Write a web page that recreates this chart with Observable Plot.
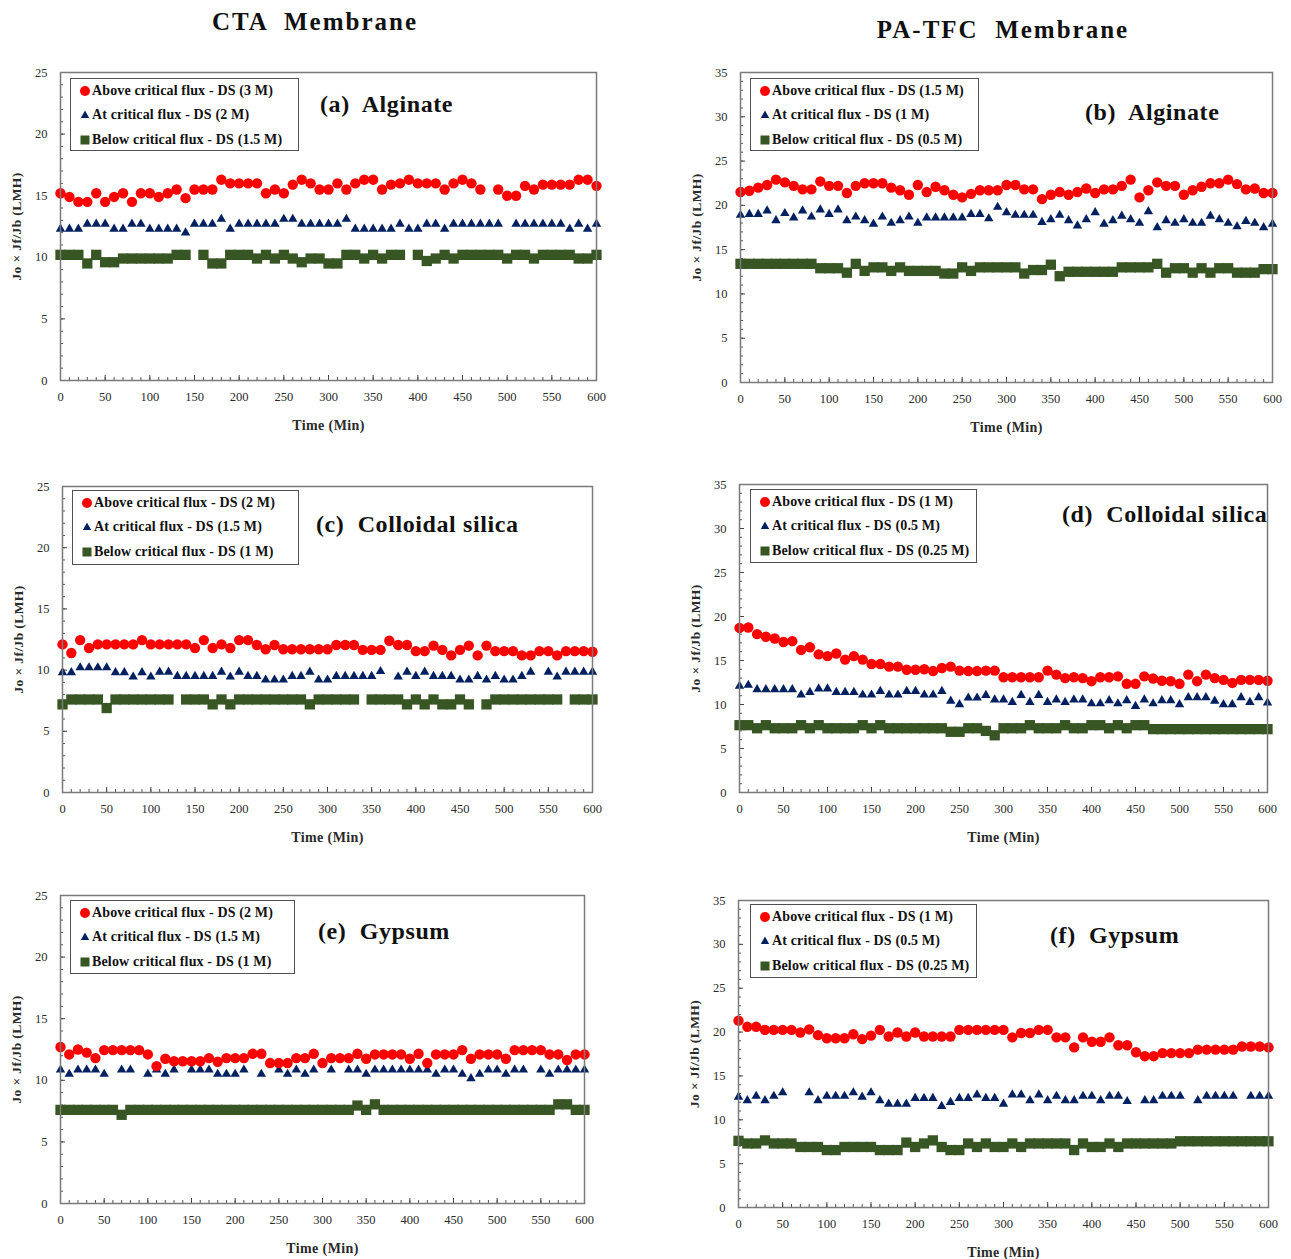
<!DOCTYPE html>
<html><head><meta charset="utf-8">
<script src="https://cdn.jsdelivr.net/npm/d3@7"></script>
<script src="https://cdn.jsdelivr.net/npm/@observablehq/plot@0.6"></script>
<style>
body{margin:0;background:#fff;}
#root{position:relative;width:1291px;height:1259px;font-family:"Liberation Serif","Times New Roman",serif;color:#111;overflow:hidden;}
.ctitle{position:absolute;font-weight:bold;font-size:25px;letter-spacing:2px;white-space:pre;transform:translate(-50%,-50%);line-height:28px;}
.panel{position:absolute;}
.panel svg{overflow:visible;}
.legend{position:absolute;border:1.6px solid #505050;background:#fff;box-sizing:border-box;font-weight:bold;font-size:14px;letter-spacing:0.15px;}
.legend .row{position:absolute;left:0;height:18px;line-height:18px;white-space:nowrap;}
.legend .row svg{position:absolute;top:0;}
.legend .row span{position:absolute;top:0;}
.plabel{position:absolute;font-weight:bold;font-size:24px;letter-spacing:0.6px;white-space:pre;line-height:26px;}
g[aria-label="y-axis label"] text{font-weight:bold;font-size:13.5px;letter-spacing:0.4px;}
g[aria-label="x-axis label"] text{font-weight:bold;font-size:14px;letter-spacing:0.4px;}
</style></head><body><div id="root"></div>
<script>
// ---- data ----
const times = [0,10,20,30,40,50,60,70,80,90,100,110,120,130,140,150,160,170,180,190,200,210,220,230,240,250,260,270,280,290,300,310,320,330,340,350,360,370,380,390,400,410,420,430,440,450,460,470,480,490,500,510,520,530,540,550,560,570,580,590,600];
const xTicks = [0,50,100,150,200,250,300,350,400,450,500,550,600];
const yTicks25 = [0,5,10,15,20,25];
const yTicks35 = [0,5,10,15,20,25,30,35];

const seriesNames = ["Above critical flux", "At critical flux", "Below critical flux"];

// (a) CTA – Alginate
const aRed = [15.2,14.9,14.5,14.5,15.2,14.5,14.9,15.2,14.5,15.2,
  15.2,14.9,15.2,15.5,14.8,15.5,15.5,15.5,16.3,16.0,
  16.0,16.0,16.0,15.2,15.5,15.2,15.9,16.3,16.0,15.5,
  15.5,16.0,15.5,16.0,16.3,16.3,15.5,15.9,16.0,16.3,
  16.0,16.0,16.0,15.5,16.0,16.3,16.0,15.5,null,15.5,
  15.0,15.0,15.8,15.5,15.9,15.9,15.9,15.9,16.3,16.3,
  15.8];
const aBlue = [12.3,12.3,12.3,12.7,12.7,12.7,12.3,12.3,12.7,12.7,
  12.3,12.3,12.3,12.3,12.0,12.7,12.7,12.7,13.1,12.3,
  12.7,12.7,12.7,12.7,12.7,13.1,13.1,12.7,12.7,12.7,
  12.7,12.7,13.1,12.3,12.3,12.3,12.3,12.3,12.7,12.3,
  12.3,12.7,12.7,12.3,12.7,12.7,12.7,12.7,12.7,12.7,
  null,12.7,12.7,12.7,12.7,12.7,12.7,12.3,12.7,12.3,
  12.7];
const aGreen = [10.2,10.2,10.2,9.5,10.2,9.6,9.6,9.9,9.9,9.9,
  9.9,9.9,9.9,10.2,10.2,null,10.2,9.5,9.5,10.2,
  10.2,10.2,9.9,10.2,9.9,10.2,9.9,9.6,9.9,9.9,
  9.5,9.5,10.2,10.2,9.9,10.2,9.9,10.2,10.2,null,
  10.2,9.7,9.9,10.2,9.9,10.2,10.2,10.2,10.2,10.2,
  9.9,10.2,10.2,9.9,10.2,10.2,10.2,10.2,9.9,9.9,
  10.2];

// (b) PA-TFC – Alginate
const bRed = [21.5,21.65,22.0,22.3,22.9,22.6,22.2,21.8,21.8,22.7,
  22.2,22.2,21.4,22.2,22.5,22.5,22.5,22.0,21.7,21.2,
  22.3,21.5,22.1,21.7,21.2,20.9,21.3,21.7,21.7,21.7,
  22.3,22.3,21.8,21.8,20.7,21.2,21.5,21.2,21.5,21.9,
  21.4,21.8,21.8,22.2,22.9,20.9,21.7,22.6,22.2,22.2,
  21.2,21.7,22.1,22.5,22.5,22.9,22.4,21.8,21.9,21.4,
  21.4];
const bBlue = [18.9,19.0,19.0,19.4,18.3,19.1,18.6,19.4,18.7,19.5,
  19.0,19.5,18.3,18.7,18.3,17.9,18.7,18.0,18.3,18.7,
  18.0,18.6,18.6,18.6,18.6,18.6,19.0,19.0,18.5,19.8,
  19.2,18.9,18.9,18.9,18.1,18.4,18.9,18.3,17.7,18.4,
  19.2,17.9,18.3,18.8,18.4,18.0,19.3,17.5,18.3,18.0,
  18.4,18.0,18.0,18.8,18.4,18.0,17.6,18.2,18.0,17.5,
  17.9];
const bGreen = [13.4,13.4,13.4,13.4,13.4,13.4,13.4,13.4,13.4,12.9,
  12.9,12.9,12.4,13.4,12.6,13.0,13.0,12.6,13.0,12.6,
  12.6,12.6,12.6,12.3,12.3,13.0,12.6,13.0,13.0,13.0,
  13.0,13.0,12.3,12.7,12.7,13.3,12.0,12.5,12.5,12.5,
  12.5,12.5,12.5,13.0,13.0,13.0,13.0,13.4,12.4,12.9,
  12.9,12.4,12.9,12.4,12.9,12.9,12.4,12.4,12.4,12.8,
  12.8];

// (c) CTA – Colloidal silica
const cRed = [12.1,11.4,12.45,11.8,12.1,12.1,12.1,12.1,12.1,12.45,
  12.1,12.1,12.1,12.1,12.1,11.8,12.45,11.8,12.1,11.8,
  12.45,12.45,12.05,11.7,12.05,11.7,11.7,11.7,11.7,11.7,
  11.7,12.05,12.05,12.05,11.65,11.65,11.65,12.4,12.05,12.05,
  11.55,11.55,12.0,11.65,11.2,11.65,12.0,11.2,12.0,11.55,
  11.55,11.55,11.2,11.2,11.55,11.55,11.2,11.55,11.55,11.55,
  11.5];
const cBlue = [9.8,9.8,10.2,10.2,10.2,10.2,9.8,9.8,9.45,9.8,
  9.45,9.85,9.85,9.5,9.5,9.5,9.5,9.5,9.85,9.45,
  9.85,9.5,9.5,9.2,9.2,9.2,9.5,9.5,9.85,9.2,
  9.2,9.5,9.5,9.5,9.5,9.5,9.9,null,9.45,9.85,
  9.5,9.85,9.5,9.5,9.5,9.2,9.2,9.5,9.2,9.5,
  9.2,9.2,9.5,9.85,null,9.85,9.45,9.85,9.85,9.85,
  9.85];
const cGreen = [7.2,7.6,7.6,7.6,7.6,6.9,7.6,7.6,7.6,7.6,
  7.6,7.6,7.6,null,7.6,7.6,7.6,7.2,7.6,7.2,
  7.6,7.6,7.6,7.6,7.6,7.6,7.6,7.6,7.2,7.6,
  7.6,7.6,7.6,7.6,null,7.6,7.6,7.6,7.6,7.2,
  7.6,7.2,7.6,7.2,7.2,7.6,7.2,null,7.2,7.6,
  7.6,7.6,7.6,7.6,7.6,7.6,7.6,null,7.6,7.6,
  7.6];

// (d) PA-TFC – Colloidal silica
const dRed = [18.7,18.75,18.0,17.7,17.5,17.1,17.2,16.2,16.5,15.7,
  15.5,15.8,15.1,15.5,15.1,14.6,14.6,14.3,14.3,13.95,
  13.95,14.0,13.8,14.15,14.3,13.85,13.8,13.8,13.85,13.85,
  13.1,13.1,13.1,13.1,13.1,13.85,13.4,13.0,13.1,13.0,
  12.65,13.1,13.1,13.2,12.35,12.35,13.2,12.95,12.7,12.65,
  12.35,13.4,12.65,13.4,13.0,12.8,12.45,12.8,12.8,12.8,
  12.7];
const dBlue = [12.1,12.2,11.7,11.7,11.7,11.7,11.7,11.1,11.4,11.8,
  11.8,11.4,11.4,11.4,11.1,11.1,11.5,11.1,11.1,11.5,
  11.5,11.1,11.1,11.5,10.4,10.0,10.75,10.75,11.05,10.55,
  10.55,10.25,11.05,10.25,11.05,10.25,10.55,10.25,10.55,10.55,
  10.1,10.1,10.45,10.1,10.45,9.8,10.55,10.1,10.45,10.45,
  10.0,10.8,10.8,10.8,10.4,10.0,10.0,10.8,10.25,10.8,
  10.2];
const dGreen = [7.65,7.65,7.3,7.65,7.3,7.3,7.3,7.65,7.3,7.65,
  7.3,7.3,7.3,7.3,7.65,7.3,7.65,7.3,7.3,7.3,
  7.3,7.3,7.3,7.3,6.9,6.9,7.3,7.3,7.0,6.5,
  7.3,7.3,7.3,7.65,7.3,7.3,7.3,7.65,7.3,7.3,
  7.65,7.65,7.3,7.65,7.3,7.65,7.65,7.2,7.2,7.2,
  7.2,7.2,7.2,7.2,7.2,7.2,7.2,7.2,7.2,7.2,
  7.2];

// (e) CTA – Gypsum
const eRed = [12.7,12.1,12.5,12.25,11.8,12.45,12.45,12.45,12.45,12.45,
  12.1,11.15,11.75,11.55,11.55,11.55,11.55,11.8,11.5,11.8,
  11.8,11.8,12.15,12.15,11.4,11.4,11.4,11.8,11.8,12.15,
  11.4,11.8,11.8,11.8,12.15,11.75,12.1,12.1,12.1,12.1,
  11.75,12.15,11.4,12.1,12.1,12.1,12.45,11.75,12.1,12.1,
  12.1,11.75,12.45,12.45,12.45,12.45,12.1,12.1,11.65,12.1,
  12.1];
const eBlue = [10.85,10.5,10.85,10.85,10.85,10.5,null,10.85,10.85,null,
  10.5,10.85,10.5,10.85,null,10.85,10.85,10.85,10.5,10.5,
  10.5,10.85,null,10.5,null,10.85,10.5,10.85,10.5,10.85,
  null,10.85,null,10.85,10.85,10.5,10.85,10.85,10.85,10.85,
  10.85,10.85,10.85,10.5,10.85,10.85,10.5,10.15,10.5,10.85,
  10.85,10.5,10.85,10.85,null,10.85,10.5,10.85,10.85,10.85,
  10.85];
const eGreen = [7.6,7.6,7.6,7.6,7.6,7.6,7.6,7.2,7.6,7.6,
  7.6,7.6,7.6,7.6,7.6,7.6,7.6,7.6,7.6,7.6,
  7.6,7.6,7.6,7.6,7.6,7.6,7.6,7.6,7.6,7.6,
  7.6,7.6,7.6,7.6,7.95,7.6,8.05,7.6,7.6,7.6,
  7.6,7.6,7.6,7.6,7.6,7.6,7.6,7.6,7.6,7.6,
  7.6,7.6,7.6,7.6,7.6,7.6,7.6,8.05,8.05,7.6,
  7.6];

// (f) PA-TFC – Gypsum
const fRed = [21.3,20.6,20.6,20.25,20.25,20.25,20.25,19.95,20.3,19.65,
  19.3,19.3,19.3,19.75,19.2,19.6,20.25,19.5,19.95,19.5,
  19.95,19.5,19.5,19.5,19.5,20.25,20.25,20.25,20.25,20.25,
  20.25,19.4,19.9,19.9,20.25,20.25,19.4,19.4,18.25,19.4,
  18.9,18.9,19.4,18.5,18.5,17.7,17.25,17.25,17.6,17.6,
  17.6,17.6,18.0,18.0,18.0,18.0,18.0,18.35,18.35,18.35,
  18.25];
const fBlue = [12.6,12.2,12.7,12.2,12.7,13.1,null,null,13.1,12.2,
  12.7,12.7,12.7,13.1,12.6,13.1,12.2,11.8,11.8,11.8,
  12.45,12.45,12.45,11.55,12.0,12.45,12.45,12.85,12.45,12.45,
  11.8,12.85,12.85,12.2,12.85,12.2,12.7,12.2,12.2,12.7,
  12.7,12.2,12.7,12.7,12.1,null,12.2,12.2,12.7,12.7,
  12.7,null,12.2,12.7,12.7,12.7,12.7,null,12.7,12.7,
  12.7];
const fGreen = [7.6,7.3,7.3,7.65,7.3,7.3,7.3,6.9,6.9,6.9,
  6.55,6.55,6.9,6.9,6.9,6.9,6.55,6.55,6.55,7.4,
  6.9,7.3,7.65,6.9,6.55,6.55,7.3,6.9,7.3,6.9,
  6.9,7.3,6.9,7.3,7.3,7.3,7.3,7.3,6.55,7.3,
  6.9,6.9,7.3,6.9,7.3,7.3,7.3,7.3,7.3,7.3,
  7.55,7.55,7.55,7.55,7.55,7.55,7.55,7.55,7.55,7.55,
  7.55];

// ---- layout (positions & styles) ----
const COLORS = {red:"#ff0000", blue:"#002060", green:"#375623"};
const panels = [
  {id:"a", L:60, R:596, T:72, B:380, yMax:25, yTicks:yTicks25, series:[aRed,aBlue,aGreen], ds:["3 M","2 M","1.5 M"],
   legend:{x:70,y:78,w:229,h:73}, label:{text:"(a)  Alginate", x:320, y:104}},
  {id:"b", L:740, R:1272, T:72, B:382, yMax:35, yTicks:yTicks35, series:[bRed,bBlue,bGreen], ds:["1.5 M","1 M","0.5 M"],
   legend:{x:750,y:78,w:229,h:73}, label:{text:"(b)  Alginate", x:1085, y:112}},
  {id:"c", L:62, R:592, T:486, B:792, yMax:25, yTicks:yTicks25, series:[cRed,cBlue,cGreen], ds:["2 M","1.5 M","1 M"],
   legend:{x:72,y:490,w:227,h:75}, label:{text:"(c)  Colloidal silica", x:316, y:524}},
  {id:"d", L:739, R:1267, T:484, B:792, yMax:35, yTicks:yTicks35, series:[dRed,dBlue,dGreen], ds:["1 M","0.5 M","0.25 M"],
   legend:{x:750,y:489,w:227,h:74}, label:{text:"(d)  Colloidal silica", x:1062, y:514}},
  {id:"e", L:60, R:584, T:895, B:1203, yMax:25, yTicks:yTicks25, series:[eRed,eBlue,eGreen], ds:["2 M","1.5 M","1 M"],
   legend:{x:70,y:900,w:225,h:74}, label:{text:"(e)  Gypsum", x:318, y:931}},
  {id:"f", L:738, R:1268, T:900, B:1207, yMax:35, yTicks:yTicks35, series:[fRed,fBlue,fGreen], ds:["1 M","0.5 M","0.25 M"],
   legend:{x:750,y:904,w:227,h:74}, label:{text:"(f)  Gypsum", x:1050, y:935}}
];

const root = document.getElementById("root");
function addTitle(text, cx, cy){
  const d = document.createElement("div");
  d.className = "ctitle"; d.textContent = text;
  d.style.left = cx+"px"; d.style.top = cy+"px";
  root.appendChild(d);
}
addTitle("CTA  Membrane", 315, 22);
addTitle("PA-TFC  Membrane", 1003, 30);

const ML = 56, MR = 8, MT = 6, MB = 58;
const toRows = arr => times.map((t,i)=>({t, v: arr[i]})).filter(d => d.v != null);

function symbolSVG(kind){
  const s = 14;
  let shape;
  if (kind===0) shape = `<circle cx="7" cy="9" r="5" fill="${COLORS.red}"/>`;
  else if (kind===1) shape = `<path d="M7,4.5 L11.2,12 L2.8,12 Z" fill="${COLORS.blue}"/>`;
  else shape = `<rect x="2.5" y="4.5" width="9" height="9" fill="${COLORS.green}"/>`;
  return `<svg width="${s}" height="18" viewBox="0 0 ${s} 18">${shape}</svg>`;
}

for (const p of panels){
  const pw = p.R - p.L, ph = p.B - p.T;
  const [red, blue, green] = p.series;
  const chart = Plot.plot({
    width: pw + ML + MR, height: ph + MT + MB,
    marginLeft: ML, marginRight: MR, marginTop: MT, marginBottom: MB,
    x: {domain: [0, 600]},
    y: {domain: [0, p.yMax]},
    style: {fontFamily: "'Liberation Serif', 'Times New Roman', serif", fontSize: "12.5px", color: "#2a2a2a", background: "transparent"},
    marks: [
      Plot.tickY(d3.range(0, p.yMax + 1, 1), {y: d => d, insetRight: pw - 3, stroke: "#555", strokeWidth: 1}),
      Plot.tickY(p.yTicks, {y: d => d, insetRight: pw - 5, stroke: "#444", strokeWidth: 1}),
      Plot.tickX(d3.range(0, 601, 10), {x: d => d, insetTop: ph - 3, stroke: "#555", strokeWidth: 1}),
      Plot.tickX(xTicks, {x: d => d, insetTop: ph - 5, stroke: "#444", strokeWidth: 1}),
      Plot.axisY(p.yTicks, {tickSize: 0, tickPadding: 13, label: "Jo × Jf/Jb (LMH)", labelAnchor: "center", labelArrow: "none", labelOffset: 49}),
      Plot.axisX(xTicks, {tickSize: 0, tickPadding: 12, label: "Time (Min)", labelAnchor: "center", labelArrow: "none", labelOffset: 49}),
      Plot.dot(toRows(green), {x: "t", y: "v", symbol: "square", r: 5.8, fill: COLORS.green, stroke: null}),
      Plot.dot(toRows(blue), {x: "t", y: "v", symbol: "triangle", r: 3.5, fill: COLORS.blue, stroke: null}),
      Plot.dot(toRows(red), {x: "t", y: "v", symbol: "circle", r: 5.2, fill: COLORS.red, stroke: null}),
      Plot.frame({stroke: "#7a7a7a", strokeWidth: 1.5})
    ]
  });
  const wrap = document.createElement("div");
  wrap.className = "panel";
  wrap.style.left = (p.L - ML) + "px";
  wrap.style.top = (p.T - MT) + "px";
  wrap.appendChild(chart);
  root.appendChild(wrap);

  // legend
  const lg = document.createElement("div");
  lg.className = "legend";
  lg.style.left = p.legend.x + "px"; lg.style.top = p.legend.y + "px";
  lg.style.width = p.legend.w + "px"; lg.style.height = p.legend.h + "px";
  const rowY = [3, 27, 52];
  seriesNames.forEach((name, k) => {
    const r = document.createElement("div");
    r.className = "row";
    r.style.top = rowY[k] + "px";
    r.innerHTML = symbolSVG(k).replace("<svg", '<svg style="left:7px"') + `<span style="left:21px">${name} - DS (${p.ds[k]})</span>`;
    lg.appendChild(r);
  });
  root.appendChild(lg);

  const lb = document.createElement("div");
  lb.className = "plabel";
  lb.textContent = p.label.text;
  lb.style.left = p.label.x + "px";
  lb.style.top = (p.label.y - 13) + "px";
  root.appendChild(lb);
}
</script></body></html>
